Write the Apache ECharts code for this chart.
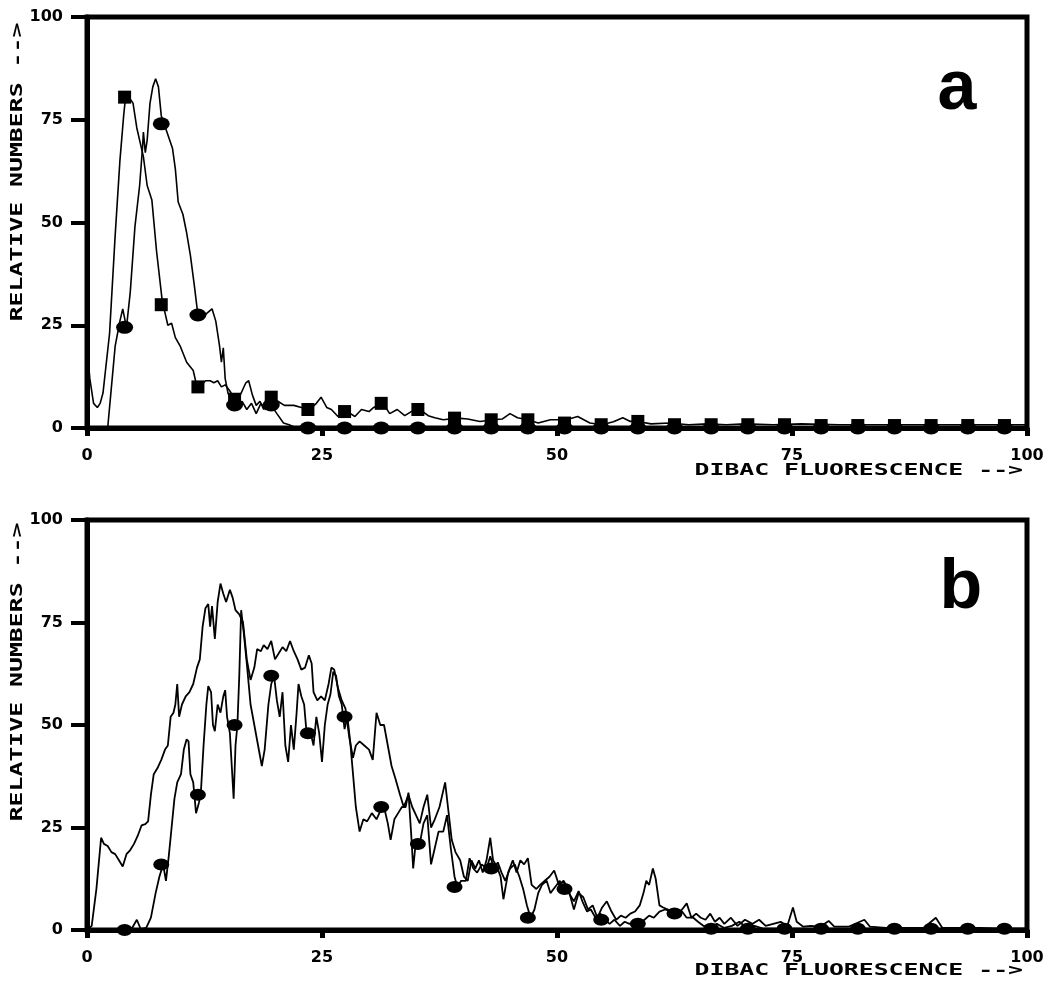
<!DOCTYPE html>
<html>
<head>
<meta charset="utf-8">
<script src="https://cdn.jsdelivr.net/npm/echarts@6.0.0/dist/echarts.min.js"></script>
<style>
  html, body { margin: 0; padding: 0; background: #fff; }
  #main { width: 1053px; height: 986px; }
</style>
</head>
<body>
<div id="main"></div>
<script>
// tick labels
var xTicks = [0, 25, 50, 75, 100];
var yTicks = [0, 25, 50, 75, 100];

// marker positions (every 10th channel)
var markX = [4.0, 7.9, 11.8, 15.7, 19.6, 23.5, 27.4, 31.3, 35.2, 39.1, 43.0, 46.9, 50.8,
             54.7, 58.6, 62.5, 66.4, 70.3, 74.2, 78.1, 82.0, 85.9, 89.8, 93.7, 97.6];

// panel a - curve with squares
var aSquareLine = [[0,20],[0.3,12],[0.7,6],[1.1,5],[1.4,6],[1.7,8.5],[2.4,23],[3.0,47],[3.5,65],[3.9,76],
  [4.1,80.5],[4.6,80],[4.9,79],[5.3,73],[5.7,69],[6.0,66],[6.4,59],[6.9,55.5],[7.4,43],[8.0,31],
  [8.3,28],[8.6,25],[9.0,25.5],[9.4,22],[9.9,20],[10.6,16],[11.3,14],[11.7,10],[12.2,10.5],[12.6,11.5],
  [13.1,11.5],[13.5,11],[13.9,11.5],[14.3,10],[14.7,10.5],[15.2,9],[15.7,7],[16.1,7],[16.5,9],[16.9,11],
  [17.2,11.5],[17.6,8],[18.0,5.5],[18.4,6.5],[18.8,4.5],[19.2,7],[19.7,7.5],[20.3,6.5],[21.0,5.5],[22.0,5.5],
  [22.8,5],[23.7,4.5],[24.4,6],[24.9,7.5],[25.5,5],[26.0,4.5],[26.7,2.8],[27.7,4],[28.5,2.8],[29.2,4.5],
  [30.0,4],[30.5,5],[31.5,6],[32.2,3.5],[33.0,4.5],[33.8,3],[34.5,4],[35.4,4.5],[36.3,3],[37.0,2.5],
  [37.9,2],[39.4,2.4],[40.5,2.2],[41.8,1.6],[43.2,2],[44.2,2.2],[45.0,3.5],[45.8,2.5],[46.9,2],[48.0,1.2],
  [49.3,2],[51.0,2],[52.2,2.8],[53.5,1.2],[54.8,0.8],[56.0,1.5],[57.0,2.5],[57.8,1.6],[58.6,1.6],[60.0,1],
  [62.0,1.2],[64,0.8],[66,1],[68,0.8],[70,1],[73,0.8],[76,1],[80,0.8],[85,0.8],[90,0.8],[95,0.8],[100,0.8]];
var aSquareMarks = [80.5, 30, 10, 7, 7.5, 4.5, 4, 6, 4.5, 2.4, 2, 2, 1.2, 0.8, 1.6,
                    0.8, 0.8, 0.8, 0.8, 0.6, 0.6, 0.6, 0.6, 0.6, 0.6];

// panel a - curve with circles
var aCircleLine = [[0,0],[2.2,0],[2.6,10],[3.0,20],[3.5,26],[3.8,29],[4.2,24.5],[4.6,33],[5.1,49],[5.6,59],
  [5.9,68],[6.0,72],[6.2,67],[6.4,70],[6.7,79],[7.0,83],[7.3,85],[7.6,83],[7.9,76],[8.2,74],
  [8.5,72],[8.8,70],[9.1,68],[9.4,63],[9.7,55],[10.2,52],[10.6,47.5],[11.0,42],[11.4,35],[11.8,27.5],
  [12.3,27],[12.8,28],[13.3,29],[13.7,26],[14.1,20],[14.3,16],[14.5,19.5],[14.7,12],[15.0,8.5],[15.5,6],
  [16.0,5.6],[16.5,6.5],[17.0,4.5],[17.5,6],[18.0,3.5],[18.5,6],[19.0,4.5],[19.6,5.5],[20.2,3.5],[20.9,1.2],
  [21.5,0.8],[22.3,0],[100,0]];
var aCircleMarks = [24.5, 74, 27.5, 5.6, 5.6, 0, 0, 0, 0, 0, 0, 0, 0,
                    0, 0, 0, 0, 0, 0, 0, 0, 0, 0, 0, 0];

// panel b - upper curve (no markers)
var bUpperLine = [[0,0],[0.5,1],[1.0,10],[1.5,22.5],[1.8,21],[2.2,20.5],[2.6,19],[3.0,18.5],[3.4,17],[3.8,15.5],
  [4.2,18.5],[4.6,19.5],[5.0,21],[5.4,23],[5.8,25.5],[6.2,25.8],[6.5,26.5],[6.8,33],[7.1,38],[7.5,39.5],
  [7.9,41.5],[8.3,44],[8.6,45],[8.9,52],[9.2,53],[9.4,55],[9.6,60],[9.8,52],[10.1,55],[10.5,57],
  [10.9,58],[11.3,60],[11.7,64],[12.0,66],[12.3,74],[12.6,78.5],[12.9,79.5],[13.1,74],[13.3,79],[13.6,71],
  [13.9,80],[14.2,84.5],[14.5,82],[14.8,80],[15.2,83],[15.5,81],[15.8,78],[16.2,77],[16.6,75],[17.0,66],
  [17.4,61],[17.8,64],[18.1,68.5],[18.5,68],[18.8,69.5],[19.2,68.5],[19.6,70.5],[20.0,66],[20.4,67.5],[20.8,69],
  [21.2,68],[21.6,70.5],[22.0,68],[22.4,66],[22.8,63.5],[23.2,64],[23.6,67],[23.9,65],[24.1,58],[24.5,56],
  [24.9,57],[25.3,56],[25.7,60],[26.0,64],[26.3,63.5],[26.7,59],[27.1,56],[27.5,54],[27.9,47],[28.3,42],
  [28.6,45],[29.0,46],[29.5,45],[30.0,44],[30.4,41.5],[30.8,53],[31.2,50],[31.6,50],[32.0,45],[32.4,40],
  [32.8,37],[33.3,33],[33.7,30],[34.2,33],[34.6,30],[35.0,28],[35.4,26],[35.8,30],[36.2,33],[36.6,25],
  [37.0,27],[37.5,30],[37.9,34],[38.1,36],[38.4,30],[38.8,22],[39.2,19],[39.7,17],[40.1,13],[40.5,12],
  [40.9,17],[41.3,15],[41.7,17],[42.1,14],[42.5,17],[42.9,22.5],[43.2,17],[43.6,15.5],[44.0,13],[44.3,7.5],
  [44.8,14],[45.3,17],[45.7,14],[46.1,17],[46.5,16],[46.9,17.5],[47.3,11],[47.8,10],[48.2,11],[48.7,12],
  [49.2,13],[49.7,14.5],[50.2,11],[50.7,12],[51.2,10],[51.8,5],[52.3,9],[52.8,8],[53.3,5],[53.8,6],
  [54.3,3],[54.8,5.5],[55.3,7],[55.8,4.5],[56.3,2.5],[56.8,3.5],[57.3,3],[57.8,4],[58.3,4.5],[58.8,6],
  [59.2,9],[59.5,12],[59.8,11],[60.2,15],[60.5,12.5],[60.9,6],[61.3,5.5],[61.8,5],[62.3,4.5],[62.8,4],
  [63.3,5],[63.8,6.5],[64.3,3],[64.8,4],[65.3,3],[65.8,2.5],[66.3,4],[66.8,2],[67.3,3],[67.8,1.5],
  [68.5,3],[69.2,1],[70,2.5],[70.8,1.5],[71.5,2.5],[72.2,1],[73,1.5],[73.8,2],[74.5,1],[75.1,5.5],
  [75.5,2],[76.2,0.8],[77,1],[78,0.8],[78.9,2.2],[79.5,0.8],[81,0.8],[82.7,2.5],[83.3,0.8],[85,0.5],
  [87,0.5],[89,0.5],[90.3,3],[91,0.5],[93,0.5],[95,0.5],[97,0.3],[100,0.3]];

// panel b - curve with circles
var bCircleLine = [[0,0],[3.9,0],[4.8,0.5],[5.3,2.5],[5.7,0.3],[6.3,0.5],[6.8,3],[7.3,9],[7.7,13],[8.1,16],
  [8.4,12],[8.7,18],[9.0,25],[9.3,32],[9.6,36],[10.0,38],[10.3,44],[10.6,46.5],[10.8,46],[11.0,38],
  [11.3,36],[11.6,28.5],[11.9,31],[12.1,33],[12.4,45],[12.7,55],[12.9,59.5],[13.2,58],[13.4,50],[13.6,48.5],
  [13.9,55],[14.2,53],[14.5,57],[14.7,58.5],[14.9,52],[15.2,48],[15.4,40],[15.6,32],[15.8,45],[16.0,50],
  [16.2,62],[16.4,78],[16.7,72],[17.0,65],[17.4,55],[17.8,50],[18.2,45],[18.6,40],[18.9,44],[19.3,55],
  [19.6,60],[19.9,62],[20.2,56],[20.5,52],[20.8,58],[21.1,45],[21.4,41],[21.7,50],[22.0,44],[22.3,53],
  [22.5,60],[22.8,57],[23.1,55],[23.4,47],[23.8,48],[24.1,45],[24.4,52],[24.7,48],[25.0,41],[25.3,50],
  [25.6,55],[25.9,57.5],[26.2,63],[26.5,62],[26.8,57],[27.1,55],[27.4,49],[27.7,52],[28.0,46],[28.3,38],
  [28.6,30],[29.0,24],[29.4,27],[29.8,26.5],[30.3,28.5],[30.8,27],[31.2,29],[31.6,30],[32.0,26],[32.3,22],
  [32.7,27],[33.1,28.5],[33.5,30],[33.9,30],[34.2,33.5],[34.5,23],[34.7,15],[35.0,22],[35.4,21],[35.8,26],
  [36.2,28],[36.6,16],[37.0,20],[37.4,24],[37.9,24],[38.3,28],[38.7,20],[39.1,13],[39.4,10.5],[39.8,12],
  [40.3,12],[40.7,17.5],[41.1,15],[41.5,14],[42.0,16],[42.5,15],[42.9,18],[43.3,15],[43.7,16.5],[44.1,14],
  [44.5,12],[45.0,15],[45.5,16],[46.0,13],[46.4,10],[46.8,6],[47.2,3],[47.6,5],[48.0,9],[48.4,11],
  [48.9,12],[49.3,9],[49.8,10.5],[50.3,12],[50.6,9.5],[51.0,10],[51.4,8.5],[51.8,7],[52.3,9.5],[52.7,7],
  [53.2,4.5],[53.6,5],[54.1,3],[54.6,4],[55.1,2.5],[55.6,1.5],[56.1,2.5],[56.7,1],[57.2,2],[57.7,1.5],
  [58.2,2],[58.8,1.5],[59.3,2.5],[59.8,3.5],[60.3,3],[60.9,4.5],[61.5,5],[62.1,4.5],[62.7,4],[63.3,4.5],
  [63.8,3],[64.5,3],[65.0,2],[65.6,1],[66.3,0.5],[67,1.5],[67.8,0.5],[68.6,1],[69.4,2],[70.3,0.3],
  [71,1],[72,0.3],[74.2,0.3],[100,0.3]];
var bCircleMarks = [0, 16, 33, 50, 62, 48, 52, 30, 21, 10.5, 15, 3, 10, 2.5, 1.5, 4,
                    0.3, 0.3, 0.3, 0.3, 0.3, 0.3, 0.3, 0.3, 0.3];

var xName = 'DIBAC FLUORESCENCE -->';
var yName = 'RELATIVE NUMBERS -->';

function marks(vals) {
  return markX.map(function (x, i) { return [x, vals[i]]; });
}

var labelFont = { color: '#000', fontFamily: 'DejaVu Sans', fontWeight: 'bold', fontSize: 16 };

function xAxisOf(idx) {
  return {
    gridIndex: idx, type: 'value', min: 0, max: 100, interval: 25,
    axisLine: { show: true, lineStyle: { color: '#000', width: 5 } },
    axisTick: { show: true, inside: false, length: 8, lineStyle: { color: '#000', width: 5 } },
    axisLabel: Object.assign({ margin: 20, formatter: function (v) { return xTicks.indexOf(v) >= 0 ? String(v) : ''; } }, labelFont),
    splitLine: { show: false }
  };
}
function yAxisOf(idx) {
  return {
    gridIndex: idx, type: 'value', min: 0, max: 100, interval: 25,
    axisLine: { show: true, lineStyle: { color: '#000', width: 5 } },
    axisTick: { show: true, inside: false, length: 16, lineStyle: { color: '#000', width: 4 } },
    axisLabel: Object.assign({ margin: 24, formatter: function (v) { return yTicks.indexOf(v) >= 0 ? String(v) : ''; } }, labelFont),
    splitLine: { show: false }
  };
}

function lineSeries(idx, data, w) {
  return {
    type: 'line', xAxisIndex: idx, yAxisIndex: idx, data: data,
    symbol: 'none', smooth: false, clip: false,
    lineStyle: { color: '#000', width: w }, z: 3
  };
}
function markSeries(idx, data, sym, size) {
  return {
    type: 'scatter', xAxisIndex: idx, yAxisIndex: idx, data: data,
    symbol: sym, symbolSize: size, clip: false,
    itemStyle: { color: '#000', opacity: 1 }, z: 5
  };
}

function nameText(x, y, text, rot) {
  return {
    type: 'text', x: x, y: y, rotation: rot, scaleX: 1.55,
    style: { text: text, font: 'bold 16px "DejaVu Sans Mono"', fill: '#000',
             align: rot ? 'center' : 'right', verticalAlign: 'middle' }
  };
}

var chart = echarts.init(document.getElementById('main'));
chart.setOption({
  animation: false,
  backgroundColor: '#fff',
  grid: [
    { left: 87, top: 17, width: 940, height: 411, show: true, borderColor: '#000', borderWidth: 5, backgroundColor: 'transparent' },
    { left: 87, top: 520, width: 940, height: 410, show: true, borderColor: '#000', borderWidth: 5, backgroundColor: 'transparent' }
  ],
  xAxis: [xAxisOf(0), xAxisOf(1)],
  yAxis: [yAxisOf(0), yAxisOf(1)],
  graphic: [
    nameText(1023, 471, xName, 0),
    nameText(1023, 971, xName, 0),
    nameText(18, 172, yName, Math.PI / 2),
    nameText(18, 672, yName, Math.PI / 2),
    { type: 'text', x: 957, y: 90, style: { text: 'a', font: 'bold 70px "Liberation Sans"', fill: '#000', align: 'center', verticalAlign: 'middle' } },
    { type: 'text', x: 961, y: 589, style: { text: 'b', font: 'bold 70px "Liberation Sans"', fill: '#000', align: 'center', verticalAlign: 'middle' } }
  ],
  series: [
    lineSeries(0, aSquareLine, 1.6),
    lineSeries(0, aCircleLine, 1.6),
    markSeries(0, marks(aCircleMarks), 'circle', [17, 13]),
    markSeries(0, marks(aSquareMarks), 'rect', 13),
    lineSeries(1, bUpperLine, 1.8),
    lineSeries(1, bCircleLine, 1.8),
    markSeries(1, marks(bCircleMarks), 'circle', [16, 12])
  ]
});
</script>
</body>
</html>
